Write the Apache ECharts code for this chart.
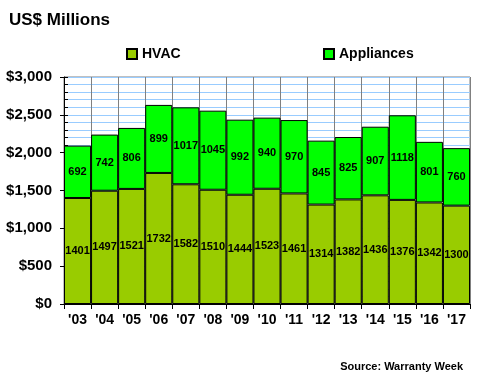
<!DOCTYPE html>
<html><head><meta charset="utf-8">
<script src="https://cdn.jsdelivr.net/npm/echarts@6/dist/echarts.min.js"></script>
<style>html,body{margin:0;padding:0;background:#fff}#c{width:480px;height:380px}</style>
</head><body><div id="c"></div>
<script>
const categories = ["'03","'04","'05","'06","'07","'08","'09","'10","'11","'12","'13","'14","'15","'16","'17"];
const hvac = [1401,1497,1521,1732,1582,1510,1444,1523,1461,1314,1382,1436,1376,1342,1300];
const appliances = [692,742,806,899,1017,1045,992,940,970,845,825,907,1118,801,760];
const yTicks = [0,500,1000,1500,2000,2500,3000];

const F = '"Liberation Sans", Arial, sans-serif';
const chart = echarts.init(document.getElementById('c'), null, {renderer:'canvas'});
const lbl = {show:true, position:'inside', color:'#000', fontFamily:F, fontWeight:'bold', fontSize:11};
chart.setOption({
  animation:false,
  backgroundColor:'#fff',
  title:[
    {text:'US$ Millions', left:4, top:7, textStyle:{fontFamily:F, fontWeight:'bold', fontSize:17, color:'#000'}},
    {text:'Source: Warranty Week', right:12, top:356, textStyle:{fontFamily:F, fontWeight:'bold', fontSize:11, color:'#000'}}
  ],
  legend:[
    {data:['HVAC'], left:121, top:42, icon:'rect', itemWidth:10, itemHeight:10, itemGap:4,
     textStyle:{fontFamily:F, fontWeight:'bold', fontSize:14, color:'#000'}},
    {data:['Appliances'], left:318, top:42, icon:'rect', itemWidth:10, itemHeight:10, itemGap:4,
     textStyle:{fontFamily:F, fontWeight:'bold', fontSize:14, color:'#000'}}
  ],
  grid:{left:64, right:10, top:77, bottom:76, show:true, borderColor:'#808080', borderWidth:1, backgroundColor:'#fff'},
  xAxis:{type:'category', data:categories, boundaryGap:true,
    axisLine:{lineStyle:{color:'#000', width:1}},
    axisTick:{show:true, length:5, lineStyle:{color:'#000'}},
    splitLine:{show:true, lineStyle:{color:'#808080', width:1}},
    axisLabel:{color:'#000', fontFamily:F, fontWeight:'bold', fontSize:14, margin:9}},
  yAxis:[
    {type:'value', min:yTicks[0], max:yTicks[yTicks.length-1], interval:500,
     axisLine:{show:true, lineStyle:{color:'#000'}},
     axisTick:{show:true, length:4, lineStyle:{color:'#000'}},
     splitLine:{show:true, lineStyle:{color:'#99ccff', width:1}},
     minorSplitLine:{show:true, lineStyle:{color:'#99ccff', width:1}},
     minorTick:{show:false, splitNumber:5},
     axisLabel:{color:'#000', fontFamily:F, fontWeight:'bold', fontSize:15, margin:12,
       formatter:v=>'$'+v.toLocaleString('en-US')}},
    {type:'value', min:0, max:3000, interval:100, position:'left',
     axisLine:{show:false}, axisLabel:{show:false}, splitLine:{show:false},
     axisTick:{show:true, inside:true, length:4, lineStyle:{color:'#000'}}}
  ],
  series:[
    {name:'HVAC', type:'bar', stack:'t', data:hvac, barCategoryGap:'0%',
     itemStyle:{color:'#99cc00', borderColor:'#000', borderWidth:1}, label:lbl},
    {name:'Appliances', type:'bar', stack:'t', data:appliances, barCategoryGap:'0%',
     itemStyle:{color:'#00ff00', borderColor:'#000', borderWidth:1}, label:lbl}
  ]
});
</script></body></html>
